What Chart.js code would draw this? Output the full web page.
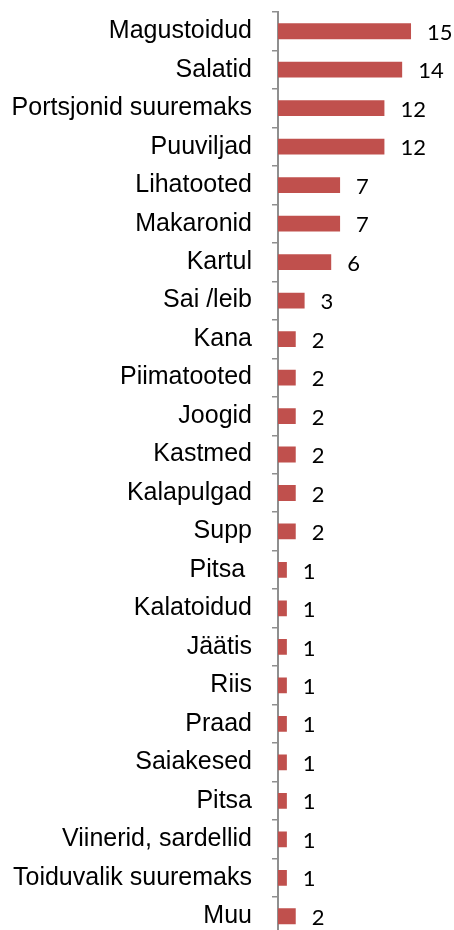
<!DOCTYPE html>
<html>
<head>
<meta charset="utf-8">
<script src="https://cdn.jsdelivr.net/npm/chart.js@4"></script>
<style>
html,body{margin:0;padding:0;background:#fff;overflow:hidden;}
#wrap{width:454px;height:940px;}
</style>
</head>
<body>
<div id="wrap"><canvas id="c" width="454" height="940"></canvas></div>
<script>
const categories = ["Magustoidud","Salatid","Portsjonid suuremaks","Puuviljad","Lihatooted","Makaronid","Kartul","Sai /leib","Kana","Piimatooted","Joogid","Kastmed","Kalapulgad","Supp","Pitsa ","Kalatoidud","Jäätis","Riis","Praad","Saiakesed","Pitsa","Viinerid, sardellid","Toiduvalik suuremaks","Muu"];
const values = [15,14,12,12,7,7,6,3,2,2,2,2,2,2,1,1,1,1,1,1,1,1,1,2];

const valueLabels = {
  id: 'valueLabels',
  afterDatasetsDraw(chart) {
    const ctx = chart.ctx;
    const meta = chart.getDatasetMeta(0);
    ctx.save();
    ctx.font = '22px Lato';
    ctx.fillStyle = '#000';
    ctx.textAlign = 'left';
    ctx.textBaseline = 'middle';
    meta.data.forEach((bar, i) => {
      ctx.fillText(String(values[i]), bar.x + 16, bar.y + 1.5);
    });
    ctx.restore();
  }
};

new Chart(document.getElementById('c'), {
  type: 'bar',
  data: {
    labels: categories,
    datasets: [{
      data: values,
      backgroundColor: '#C0504D',
      borderWidth: 0,
      categoryPercentage: 1,
      barPercentage: 0.41
    }]
  },
  options: {
    indexAxis: 'y',
    responsive: false,
    animation: false,
    devicePixelRatio: 1,
    layout: { padding: { top: 12, right: 7.5, bottom: 4.5, left: 0 } },
    plugins: { legend: { display: false }, tooltip: { enabled: false } },
    scales: {
      x: { type: 'linear', display: false, min: 0, max: 19 },
      y: {
        type: 'category',
        grid: { display: true, drawOnChartArea: false, drawTicks: true, tickLength: 6, color: '#8f8f8f', lineWidth: 1.5, offset: true },
        border: { display: true, color: '#8f8f8f', width: 2 },
        ticks: { color: '#000', padding: 20, autoSkip: false, font: { family: 'Liberation Sans', size: 25 } },
        afterFit(scale) { scale.width = 278; scale.paddingTop = 0; scale.paddingBottom = 0; }
      }
    }
  },
  plugins: [valueLabels]
});
</script>
</body>
</html>
